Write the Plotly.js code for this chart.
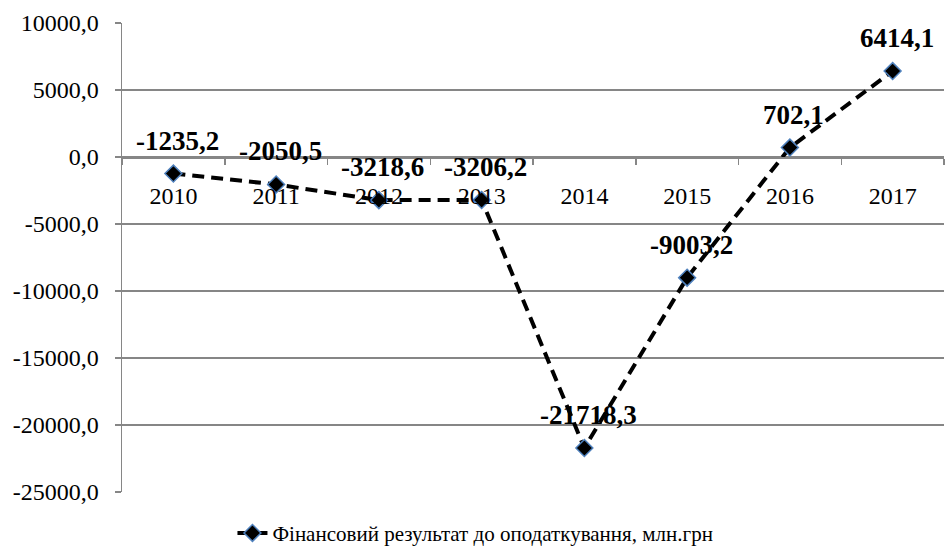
<!DOCTYPE html>
<html>
<head>
<meta charset="utf-8">
<script src="https://cdn.plot.ly/plotly-3.0.1.min.js"></script>
<style>html,body{margin:0;padding:0;background:#fff;}#chart{width:945px;height:553px;}</style>
</head>
<body>
<div id="chart"></div>
<script>
const years = ['2010','2011','2012','2013','2014','2015','2016','2017'];
const values = [-1235.2, -2050.5, -3218.6, -3206.2, -21718.3, -9003.2, 702.1, 6414.1];
const seriesName = 'Фінансовий результат до оподаткування, млн.грн';
const yTickVals = [10000, 5000, 0, -5000, -10000, -15000, -20000, -25000];
const yTickText = ['10000,0','5000,0','0,0','-5000,0','-10000,0','-15000,0','-20000,0','-25000,0'];
const labels = values.map(v => v.toFixed(1).replace('.', ','));

const yMin = -25000, yMax = 10000;
const font = 'Liberation Serif';

const trace = {
  x: years,
  y: values,
  type: 'scatter',
  mode: 'lines+markers',
  name: seriesName,
  line: {color: '#000', width: 4, dash: '12px,7px'},
  marker: {symbol: 'diamond', size: 13, color: '#000', line: {color: '#4F81BD', width: 1.5}},
  cliponaxis: false,
  hoverinfo: 'skip'
};

// annotation x uses the category index on the category axis
const annotations = years.map((yr, i) => ({
  x: i, y: values[i], xref: 'x', yref: 'y',
  text: '<b>' + labels[i] + '</b>',
  showarrow: false, yshift: 33, xshift: 4,
  font: {family: font, size: 27, color: '#000'}
}));

const layout = {
  width: 945, height: 553,
  margin: {l: 122, r: 1, t: 23, b: 61, autoexpand: false},
  paper_bgcolor: '#fff', plot_bgcolor: '#fff',
  font: {family: font, size: 24, color: '#000'},
  showlegend: true,
  legend: {orientation: 'h', x: 0.43, xanchor: 'center', y: -0.088, yanchor: 'middle',
           font: {family: font, size: 21, color: '#000'}},
  annotations: annotations,
  xaxis: {
    type: 'category',
    categoryorder: 'array', categoryarray: years,
    range: [-0.5, years.length - 0.5],
    anchor: 'free',
    position: (0 - yMin) / (yMax - yMin),
    showline: true, linecolor: '#868686', linewidth: 1.5,
    ticks: 'outside', tickson: 'boundaries', ticklen: 6, tickcolor: '#868686', tickwidth: 1.5,
    ticklabelstandoff: 17,
    showgrid: false, zeroline: false,
    tickfont: {family: font, size: 24, color: '#000'},
    automargin: false,
    fixedrange: true
  },
  yaxis: {
    range: [yMin, yMax],
    tickvals: yTickVals, ticktext: yTickText,
    showline: true, linecolor: '#868686', linewidth: 1.5,
    ticks: 'outside', ticklen: 6, tickcolor: '#868686', tickwidth: 1.5,
    ticklabelstandoff: 11,
    showgrid: true, gridcolor: '#868686', gridwidth: 1.5,
    zeroline: false,
    tickfont: {family: font, size: 24, color: '#000'},
    automargin: false,
    fixedrange: true
  }
};

Plotly.newPlot('chart', [trace], layout, {displayModeBar: false, staticPlot: true});
</script>
</body>
</html>
